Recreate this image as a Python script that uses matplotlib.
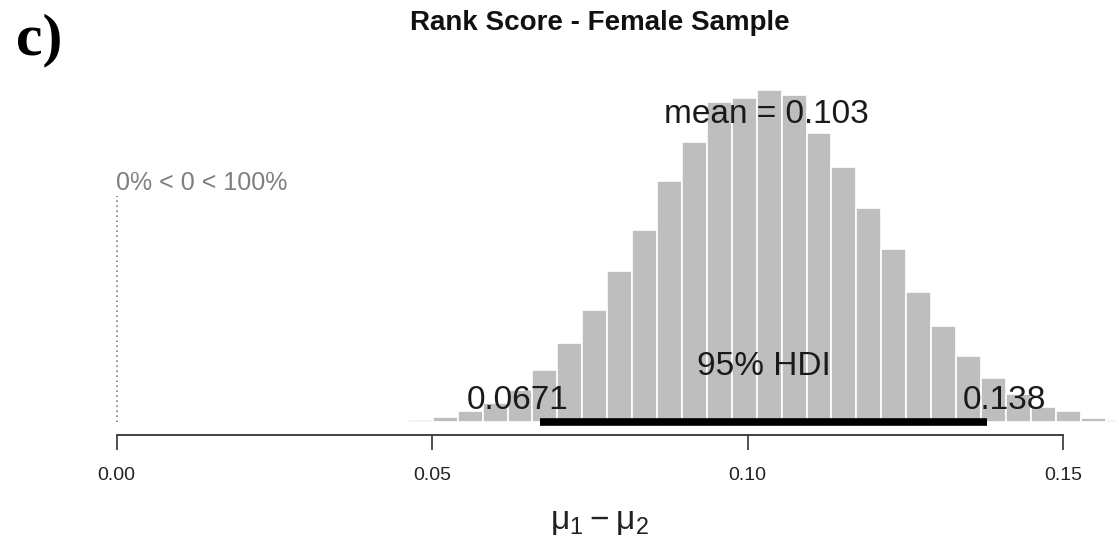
import matplotlib
matplotlib.use("Agg")
import matplotlib.pyplot as plt
import numpy as np

# ---- data ----
bin_start = 0.04617
bin_width = 0.003949
# posterior density heights (approx) per bin, left to right
densities = [0.15, 0.31, 0.73, 1.27, 2.13, 3.47, 5.27, 7.47, 10.07, 12.80,
             16.07, 18.67, 21.33, 21.60, 22.13, 21.80, 19.27, 17.00, 14.27,
             11.53, 8.67, 6.40, 4.40, 2.93, 1.87, 1.00, 0.73, 0.30, 0.15]
last_bin_width = 0.0019
hdi_low, hdi_high = 0.0671, 0.138
mean_val = 0.103
comp_val = 0.0
pct_below, pct_above = 0, 100
tick_vals = [0.00, 0.05, 0.10, 0.15]
tick_labels = ["0.00", "0.05", "0.10", "0.15"]
title = "Rank Score - Female Sample"
panel_label = "c)"

# ---- figure ----
W, H = 1119, 551
fig = plt.figure(figsize=(W / 100, H / 100), dpi=100)
ax = fig.add_axes([0, 116 / H, 1, 375 / H])

n = len(densities)
widths = [bin_width] * (n - 1) + [last_bin_width]
lefts = [bin_start + i * bin_width for i in range(n)]
ax.bar(lefts, densities, width=widths, align="edge", color="#BEBEBE",
       edgecolor="white", linewidth=1.2)

# HDI bar
ax.plot([hdi_low, hdi_high], [0, 0], color="black", lw=5.5,
        solid_capstyle="butt", zorder=5)

txt_kw = dict(fontsize=24, family="Liberation Sans", color="#1a1a1a")
ax.text((hdi_low + hdi_high) / 2, 2.65, "95% HDI", ha="center", va="bottom", **txt_kw)
ax.annotate(f"{hdi_low:.4f}".rstrip("0"), (hdi_low, 0.4), xytext=(-22, 0),
            textcoords="offset pixels", ha="center", va="bottom", **txt_kw)
ax.annotate(f"{hdi_high:.3f}", (hdi_high, 0.4), xytext=(17, 0),
            textcoords="offset pixels", ha="center", va="bottom", **txt_kw)
ax.text(mean_val, 19.45, f"mean = {mean_val:.3f}", ha="center", va="bottom", **txt_kw)

# comparison value
ax.plot([comp_val, comp_val], [0, 15.1], color="#808080", lw=1.2,
        linestyle=(0, (1, 2)))
ax.text(comp_val, 15.1, f"{pct_below}% < {comp_val:g} < {pct_above}%",
        ha="left", va="bottom", fontsize=18, family="Liberation Sans",
        color="#7f7f7f")

ax.set_xlim(-116.5 / 6310, (W - 116.5) / 6310)
ax.set_ylim(-13 / 15, 375 / 15 - 13 / 15)

for s in ["top", "right", "left"]:
    ax.spines[s].set_visible(False)
ax.spines["bottom"].set_bounds(tick_vals[0], tick_vals[-1])
ax.spines["bottom"].set_linewidth(1.3)
ax.spines["bottom"].set_color("#333333")
ax.set_yticks([])
ax.set_xticks(tick_vals)
ax.set_xticklabels(tick_labels, family="Liberation Sans", fontsize=14,
                   color="#222222")
ax.tick_params(axis="x", length=11, width=1.2, pad=12, color="#333333")

ax.set_xlabel(r"$\mathregular{\mu_1 - \mu_2}$", fontsize=24,
              family="Liberation Sans", color="#222222")
ax.xaxis.set_label_coords(600 / W, -0.19)

fig.text(600 / W, 1 - 23 / H, title, ha="center", va="center",
         fontsize=20, fontweight="bold", family="Liberation Sans",
         color="#111111")
fig.text(16 / W, 1 - 40 / H, panel_label, ha="left", va="center",
         fontsize=43, fontweight="bold", family="Liberation Serif")

fig.savefig("out.png", dpi=100)
